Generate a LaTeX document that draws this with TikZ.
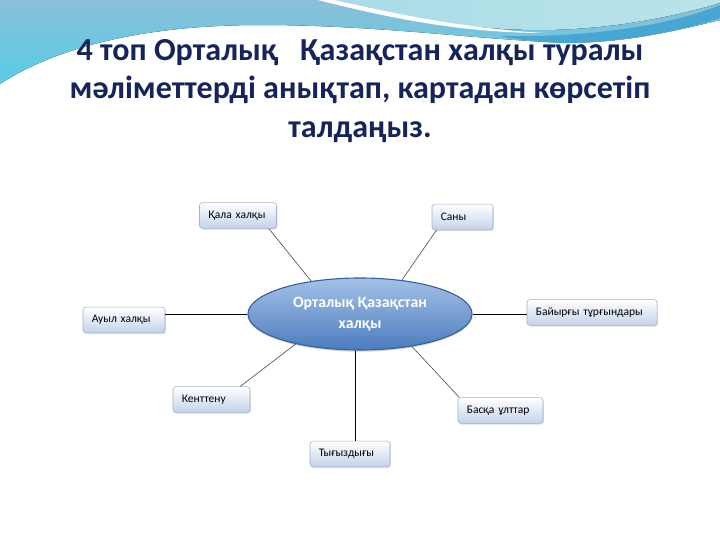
\documentclass[tikz,border=0pt]{standalone}
\usepackage{fontspec}
\setmainfont{Carlito}
\usepackage{xcolor}
\definecolor{titleink}{HTML}{15245A}
\definecolor{skytop}{HTML}{8BBFD7}
\definecolor{skylow}{HTML}{55CDEA}
\definecolor{skypale}{HTML}{A9DCE6}
\definecolor{skyband}{HTML}{47A7D2}
\definecolor{ovaltop}{HTML}{A5C2E7}
\definecolor{ovallow}{HTML}{4B7BBD}
\definecolor{ovalrim}{HTML}{35619E}
\definecolor{boxlow}{HTML}{C3D2EA}
\definecolor{boxrim}{HTML}{A3B3CE}
\definecolor{spoke}{HTML}{505050}
\usetikzlibrary{calc,positioning,shapes.geometric,shadows}

\begin{document}
\begin{tikzpicture}[x=0.025cm, y=-0.025cm, font=\normalsize,
		itembox/.style={draw=boxrim, rounded corners=2pt, top color=white, bottom color=boxlow,
			minimum height=0.64cm, inner xsep=0.22cm, inner ysep=0pt, align=left,
			font=\fontsize{8.2}{9}\selectfont, text=black,
			drop shadow={shadow xshift=0.6pt, shadow yshift=-0.9pt, opacity=0.25}},
		hub/.style={ellipse, draw=ovalrim, line width=0.8pt, top color=ovaltop, bottom color=ovallow,
			minimum width=5.6cm, minimum height=1.8cm, inner sep=0pt, align=center,
			font=\fontsize{11.2}{15.5}\selectfont\bfseries, text=white,
			drop shadow={shadow xshift=0pt, shadow yshift=-1.2pt, opacity=0.3}},
		solidspoke/.style={draw=black, line width=0.7pt},
		thinspoke/.style={draw=spoke, line width=0.45pt}]

		% ---------- page frame, in pixel units (y runs downwards)
		\fill[white] (0,0) rectangle (720,540);
		\useasboundingbox (0,0) rectangle (720,540);

		% ================= slide background: wave across the top =================
		\fill[top color=skytop, bottom color=skylow]
			(0,0) -- (720,0) -- (720,20)
			.. controls (660,35) and (620,42) .. (570,43)
			.. controls (480,40) and (380,25) .. (260,25)
			.. controls (150,25) and (60,45) .. (0,84) -- cycle;
		% pale lens on the upper right
		\fill[left color=skypale, right color=skypale!80!white]
			(325,0) .. controls (400,18) and (470,30) .. (540,30)
			.. controls (620,30) and (690,12) .. (720,3) -- (720,0) -- cycle;
		% white streak under the lens
		\fill[white]
			(318,0) .. controls (400,21) and (470,33) .. (545,33)
			.. controls (470,29) and (400,15) .. (334,0) -- cycle;
		% darker band running out to the right edge
		\fill[skyband]
			(500,36) .. controls (600,38) and (680,22) .. (720,5) -- (720,18)
			.. controls (680,32) and (610,44) .. (560,43)
			.. controls (540,42) and (520,40) .. (500,36) -- cycle;

		% ================= title =================
		\node[anchor=north, align=center, inner sep=0pt, text=titleink,
			font=\fontsize{22.8}{27.5}\selectfont\bfseries] (title) at (360,39)
			{4 топ Орталық\ \ \ Қазақстан халқы туралы\\
			 мәліметтерді анықтап, картадан көрсетіп\\
			 талдаңыз.};

		% ================= hub and its seven boxes =================
		\node[hub] (ctr) at (360,314) {Орталық Қазақстан\\халқы};

		\node[itembox, text width=1.485cm] (qala) at (238,215.5) {Қала халқы};
		\node[itembox, text width=1.085cm] (sany) at (462.5,217) {Саны};
		\node[itembox, text width=1.61cm] (auyl) at (124,320) {Ауыл халқы};
		\node[itembox, text width=2.81cm] (bayyrgy) at (592,312.5) {Байырғы тұрғындары};
		\node[itembox, text width=1.485cm] (kent) at (211.5,399.5) {Кенттену};
		\node[itembox, text width=1.685cm] (basqa) at (500.5,410.5) {Басқа ұлттар};
		\node[itembox, text width=1.56cm] (tygyz) at (350,454) {Тығыздығы};

		% spokes: the two horizontal ones and the downward one are solid,
		% the four slanted ones are thin grey
		\draw[thinspoke] ([xshift=-2mm]qala.south east) -- (ctr.146);
		\draw[thinspoke] ([xshift=1.2mm]sany.south west) -- (ctr.39);
		\draw[solidspoke] (ctr.west) -- (ctr.west -| auyl.east);
		\draw[solidspoke] (ctr.east) -- (ctr.east -| bayyrgy.west);
		\draw[thinspoke] ([xshift=-2.5mm]kent.north east) -- (ctr.205);
		\draw[thinspoke] (ctr.-32) -- ([xshift=0.4mm]basqa.north west);
		\draw[solidspoke] ([xshift=-1.2mm]ctr.south) -- ([xshift=-1.2mm]ctr.south |- tygyz.north);
	\end{tikzpicture}
\end{document}
